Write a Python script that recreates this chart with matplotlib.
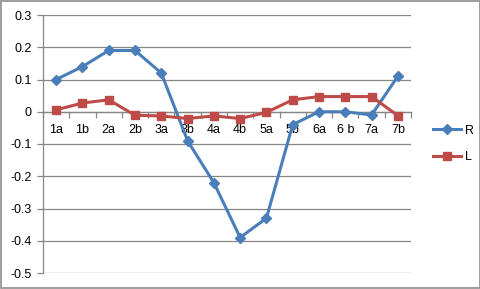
import numpy as np
import matplotlib.pyplot as plt
from matplotlib.patches import Rectangle

categories = ["1a", "1b", "2a", "2b", "3a", "3b", "4a", "4b",
              "5a", "5b", "6a", "6 b", "7a", "7b"]
r_values = [0.10, 0.14, 0.19, 0.19, 0.12, -0.09, -0.22, -0.39,
            -0.33, -0.04, 0.00, 0.00, -0.01, 0.11]
l_values = [0.006, 0.027, 0.037, -0.011, -0.013, -0.021, -0.013, -0.021,
            -0.002, 0.037, 0.047, 0.047, 0.047, -0.012]
y_ticks = [-0.5, -0.4, -0.3, -0.2, -0.1, 0, 0.1, 0.2, 0.3]
y_labels = ["-0.5", "-0.4", "-0.3", "-0.2", "-0.1", "0", "0.1", "0.2", "0.3"]

plt.rcParams["font.family"] = ["Liberation Sans", "DejaVu Sans"]
grid_col = "#868686"

fig = plt.figure(figsize=(4.81, 2.89), dpi=100)
ax = fig.add_axes([43 / 481, 16 / 289, 368 / 481, 258 / 289])

x = np.arange(len(categories))
ax.plot(x, r_values, color="#4A7EBB", lw=2.2, marker="D", ms=5,
        label="R", zorder=3)
ax.plot(x, l_values, color="#BE4B48", lw=2.2, marker="s", ms=6,
        label="L", zorder=3)

ax.set_xlim(-0.5, len(categories) - 0.5)
ax.set_ylim(-0.5, 0.3)
ax.set_yticks(y_ticks)
ax.set_yticklabels(y_labels)
for yv in y_ticks:
    if yv != -0.5:
        ax.axhline(yv, color=grid_col, lw=0.9, zorder=1)

for s in ["top", "right"]:
    ax.spines[s].set_visible(False)
ax.spines["left"].set_color(grid_col)
ax.spines["left"].set_linewidth(0.9)
ax.spines["bottom"].set_position(("data", 0))
ax.spines["bottom"].set_color(grid_col)
ax.spines["bottom"].set_linewidth(0.9)
ax.axhline(-0.5, color=grid_col, lw=0.9, zorder=1)

ax.set_xticks(np.arange(-0.5, len(categories), 1.0))
ax.set_xticklabels([])
ax.set_xticks(x, minor=True)
ax.set_xticklabels(categories, minor=True)
ax.tick_params(axis="x", which="major", direction="out", length=4,
               color=grid_col, width=0.9)
ax.tick_params(axis="x", which="minor", length=0, pad=9, labelsize=9)
ax.tick_params(axis="y", direction="out", length=4, color=grid_col,
               width=0.9, labelsize=9, pad=4)

ax.legend(loc="center left", bbox_to_anchor=(1.03, 0.5), frameon=False,
          fontsize=9, handlelength=2.2, labelspacing=1.2, handletextpad=0.3)

fig.patches.append(Rectangle((0.002, 0.003), 0.995, 0.993,
                             transform=fig.transFigure, fill=False,
                             edgecolor="#8c8c8c", lw=1.2))

fig.savefig("out.png", dpi=100)
